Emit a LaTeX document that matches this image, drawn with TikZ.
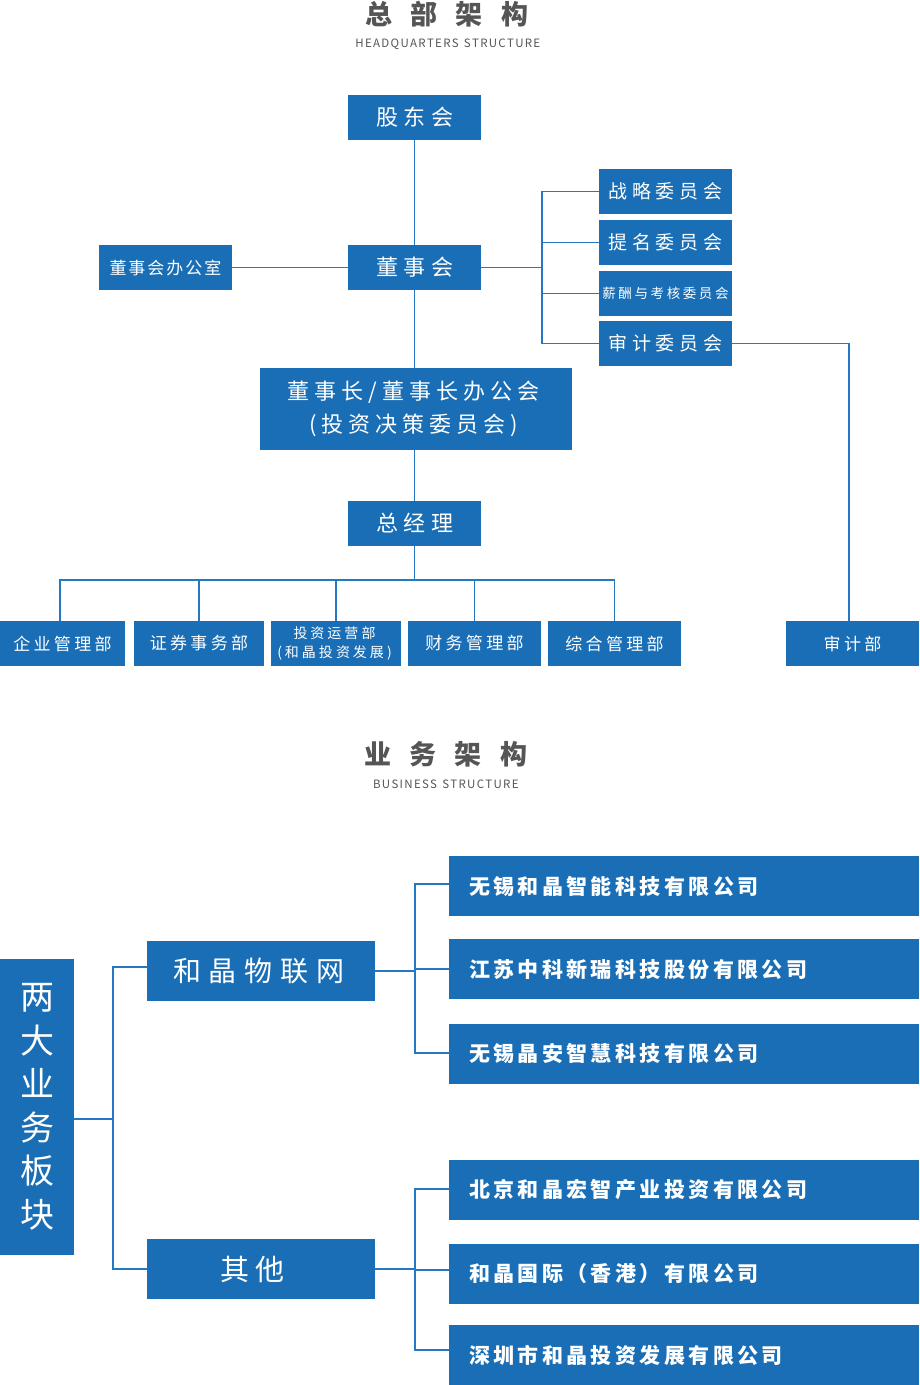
\documentclass[tikz,border=0pt]{standalone}
\usepackage{fontspec}
\newfontfamily\cjk{Noto Sans CJK SC}
\definecolor{bl}{HTML}{1A6EB5}
\definecolor{lnc}{HTML}{2479C2}
\definecolor{tg}{HTML}{555555}
\makeatletter
\newcommand\spc[2]{\def\spc@g{#1}\@tfor\spc@c:=#2\do{\spc@c\hspace{\spc@g}}\hspace{-\spc@g}}
\makeatother
\tikzset{
  box/.style={fill=bl, text=white, inner sep=0pt, minimum height=45pt, minimum width=133pt, align=center},
  bigbox/.style={box, minimum height=60pt},
  cobox/.style={fill=bl, text=white, inner ysep=0pt, inner xsep=20pt, minimum height=60pt, text width=430pt, align=left,
     font={\cjk\bfseries\fontsize{21}{24}\selectfont}},
  lnk/.style={draw=lnc, line width=1.2pt},
  fmain/.style={font={\cjk\fontsize{22}{33.7}\selectfont}},
  fcom/.style={font={\cjk\fontsize{19}{22}\selectfont}},
  fdep/.style={font={\cjk\fontsize{17}{20}\selectfont}},
  fsmall/.style={font={\cjk\fontsize{13.5}{19}\selectfont}},
  ttl/.style={text=tg, inner sep=0pt, font={\cjk\bfseries\fontsize{27}{30}\selectfont}},
  sub/.style={text=tg, inner sep=0pt, font={\cjk\fontsize{11.5}{13}\selectfont}},
}
\begin{document}
\begin{tikzpicture}[x=1pt,y=-1pt]
\useasboundingbox (0,0) rectangle (919,1385);
% titles
\node[ttl] (t1) at (456,14) {\spc{18.5pt}{总部架构}};
\node[sub] (t1e) at (448.5,44.5) {\spc{1.3pt}{HEADQUARTERS{\ }STRUCTURE}};
\node[ttl] (t2) at (455,754.5) {\spc{18.5pt}{业务架构}};
\node[sub] (t2e) at (446.5,784.5) {\spc{1.3pt}{BUSINESS{\ }STRUCTURE}};
% headquarters
\node[box,fmain] (sh) at (414.5,117.5) {\spc{5.5pt}{股东会}};
\node[box,fmain] (dsh) at (414.5,267.5) {\spc{5.5pt}{董事会}};
\node[box,fdep] (dshb) at (165.5,267.5) {\spc{2pt}{董事会办公室}};
\node[box,fcom] (c1) at (665.5,191.5) {\spc{5pt}{战略委员会}};
\node[box,fcom] (c2) at (665.5,242.5) {\spc{5pt}{提名委员会}};
\node[box,fsmall] (c3) at (665.5,293.5) {\spc{2.6pt}{薪酬与考核委员会}};
\node[box,fcom] (c4) at (665.5,343.5) {\spc{5pt}{审计委员会}};
\node[box,fmain,minimum width=312pt,minimum height=82pt] (dsz) at (416,409)
  {\spc{5pt}{董事长/董事长办公会}\\\spc{5pt}{(投资决策委员会)}};
\node[box,fmain] (zjl) at (414.5,523.5) {\spc{5.5pt}{总经理}};
\node[box,fdep,minimum width=125pt] (d1) at (62.5,643.5) {\spc{3.3pt}{企业管理部}};
\node[box,fdep,minimum width=130pt] (d2) at (199,643.5) {\spc{3.3pt}{证券事务部}};
\node[box,font={\cjk\fontsize{14}{19}\selectfont},minimum width=130pt] (d3) at (336,643.5)
  {\spc{3pt}{投资运营部}\\\spc{3pt}{(和晶投资发展)}};
\node[box,fdep] (d4) at (474.5,643.5) {\spc{3.3pt}{财务管理部}};
\node[box,fdep] (d5) at (614.5,643.5) {\spc{3.3pt}{综合管理部}};
\node[box,fdep] (sjb) at (852.5,643.5) {\spc{3.3pt}{审计部}};
% headquarters connectors
\coordinate (cbr) at (542,0);
\coordinate (aud) at (849,0);
\coordinate (bar) at (0,580);
\draw[lnk] (sh.south) -- (sh.south |- dsh.north);
\draw[lnk] (dsh.south) -- (dsh.south |- dsz.north);
\draw[lnk] (dsz.south -| zjl.north) -- (zjl.north);
\draw[lnk] (dshb.east) -- (dsh.west);
\draw[lnk] (dsh.east) -- (dsh.east -| cbr);
\draw[lnk] (c1.west) -- (c1.west -| cbr) -- (c4.west -| cbr) -- (c4.west);
\draw[lnk] (c2.west) -- (c2.west -| cbr);
\draw[lnk] (c3.west) -- (c3.west -| cbr);
\draw[lnk] (c4.east) -- (c4.east -| aud) -- (aud |- sjb.north);
\draw[lnk] (zjl.south) -- (zjl.south |- bar);
\draw[lnk] ([xshift=-2.5pt]d1.north) -- ([xshift=-2.5pt]d1.north |- bar) -- (d5.north |- bar) -- (d5.north);
\draw[lnk] (d2.north) -- (d2.north |- bar);
\draw[lnk] (d3.north) -- (d3.north |- bar);
\draw[lnk] (d4.north) -- (d4.north |- bar);
% business
\node[fill=bl, text=white, inner sep=0pt, minimum width=74pt, minimum height=296pt, align=center,
  font={\cjk\fontsize{34}{43.5}\selectfont}] (lb) at (37,1107) {\raisebox{-3pt}{两}\\\raisebox{-3pt}{大}\\\raisebox{-3pt}{业}\\\raisebox{-3pt}{务}\\\raisebox{-3pt}{板}\\\raisebox{-3pt}{块}};
\node[bigbox, minimum width=228pt, font={\cjk\fontsize{28}{32}\selectfont}] (iot) at (261,971) {\spc{8pt}{和晶物联网}\hspace{4pt}};
\node[bigbox, minimum width=228pt, font={\cjk\fontsize{29}{32}\selectfont}] (qt) at (261,1269) {\spc{7pt}{其他}\hspace{17pt}};
\node[cobox] (co1) at (684,886) {\spc{3.4pt}{无锡和晶智能科技有限公司}};
\node[cobox] (co2) at (684,969) {\spc{3.4pt}{江苏中科新瑞科技股份有限公司}};
\node[cobox] (co3) at (684,1054) {\spc{3.4pt}{无锡晶安智慧科技有限公司}};
\node[cobox] (co4) at (684,1190) {\spc{3.4pt}{北京和晶宏智产业投资有限公司}};
\node[cobox] (co5) at (684,1274) {\spc{3.4pt}{和晶国际（香港）有限公司}};
\node[cobox] (co6) at (684,1355) {\spc{3.4pt}{深圳市和晶投资发展有限公司}};
\coordinate (lx) at (113,0);
\coordinate (rx) at (415,0);
\draw[lnk] ([yshift=-12pt]lb.east) -- ([yshift=-12pt]lb.east -| lx);
\draw[lnk] ([yshift=4pt]iot.west) -- ([yshift=4pt]iot.west -| lx) -- (qt.west -| lx) -- (qt.west);
\draw[lnk] (iot.east) -- (iot.east -| rx);
\draw[lnk] ([yshift=2pt]co1.west) -- ([yshift=2pt]co1.west -| rx) -- ([yshift=1pt]co3.west -| rx) -- ([yshift=1pt]co3.west);
\draw[lnk] (co2.west) -- (co2.west -| rx);
\draw[lnk] (qt.east) -- (qt.east -| rx);
\draw[lnk] ([yshift=1pt]co4.west) -- ([yshift=1pt]co4.west -| rx) -- ([yshift=5pt]co6.west -| rx) -- ([yshift=5pt]co6.west);
\draw[lnk] ([yshift=4pt]co5.west) -- ([yshift=4pt]co5.west -| rx);
\end{tikzpicture}
\end{document}
